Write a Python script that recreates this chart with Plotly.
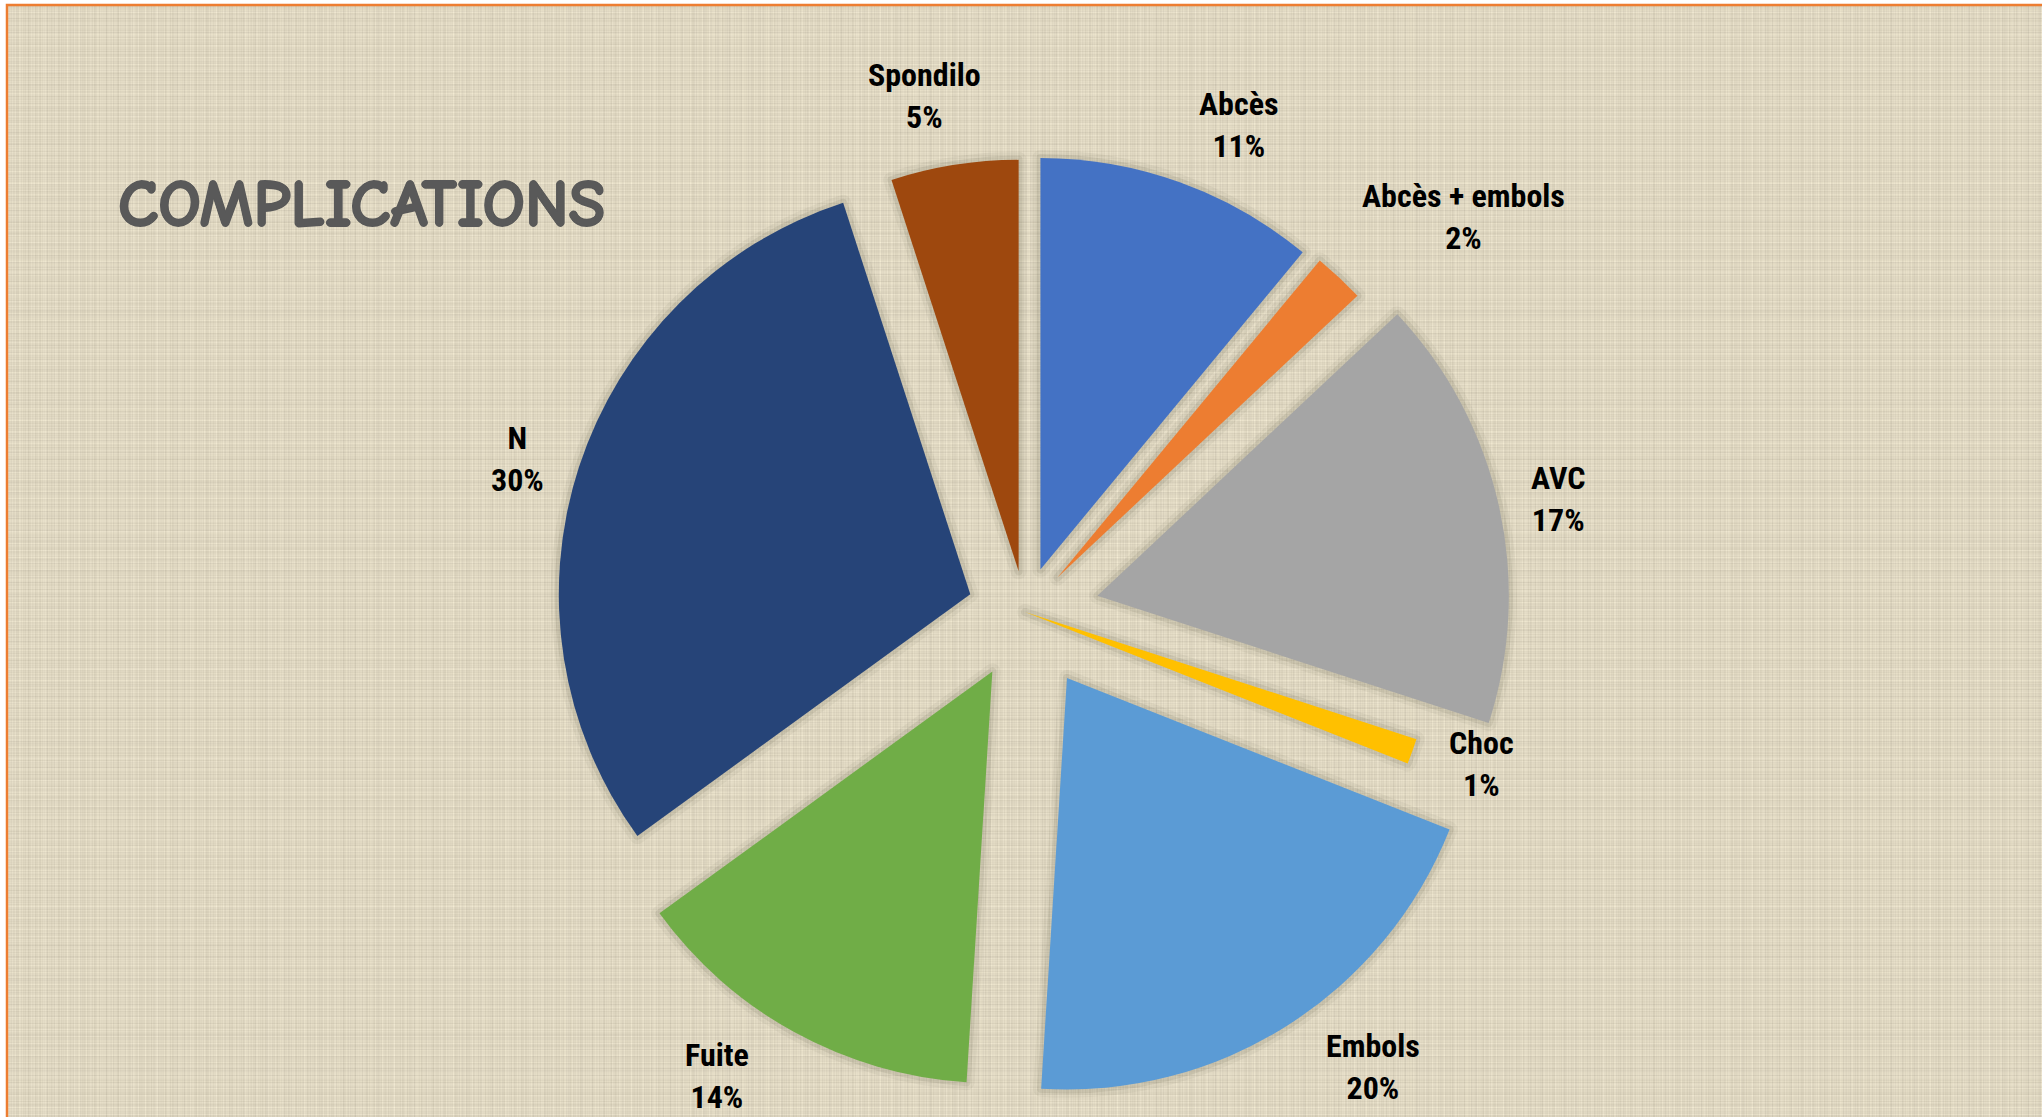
import base64
import math
import struct
import zlib

import numpy as np
import plotly.graph_objects as go

# ---- data -------------------------------------------------------------
labels = ["Abcès", "Abcès + embols", "AVC", "Choc", "Embols", "Fuite", "N", "Spondilo"]
percents = [11, 2, 17, 1, 20, 14, 30, 5]
pulls = [0.11, 0.115, 0.18, 0.0, 0.19, 0.165, 0.14, 0.10]
colors = ["#4472C4", "#ED7D31", "#A5A5A5", "#FFC000", "#5B9BD5", "#70AD47", "#264478", "#9E480E"]
title_text = "COMPLICATIONS"

# ---- canvas -----------------------------------------------------------
W, H = 2042, 1117
FRAME_X, FRAME_Y = 7, 5          # orange frame offset from the page edge
DOM_X = [0.2622, 0.7418]
DOM_Y = [0.0137, 0.8905]
LABEL_FONT = "Liberation Sans Narrow, Roboto Condensed, Arial Narrow, Open Sans, sans-serif"
LABEL_SIZE = 32
TITLE_COLOR = "#595959"


def linen_png(w, h):
    """Separable woven-linen texture encoded as PNG (Up filter keeps it tiny)."""
    x = np.arange(w)
    y = np.arange(h)

    def threads(t, phase):
        return (0.50 * np.sin(2 * np.pi * t / 2.37 + phase)
                + 0.45 * np.sin(2 * np.pi * t / 3.71 + 1.3 * phase)
                + 0.35 * np.sin(2 * np.pi * t / 5.93 + 0.4 + phase)
                + 0.25 * np.sin(2 * np.pi * t / 11.3 + 2.1 * phase)
                + 0.10 * np.sin(2 * np.pi * t / 29.0 + 0.7 * phase))

    cx = threads(x, 0.0)
    ry = threads(y, 1.7)
    base = np.array([222, 214, 192])
    amp = np.array([8.0, 8.0, 7.5])
    img = np.zeros((h, w, 3), dtype=np.int16)
    for ch in range(3):
        ci = np.round(cx * amp[ch]).astype(np.int16)
        ri = np.round(ry * amp[ch]).astype(np.int16)
        img[:, :, ch] = base[ch] + ci[None, :] + ri[:, None]
    img = np.clip(img, 0, 255).astype(np.uint8)

    prev = np.zeros((w * 3,), dtype=np.uint8)
    rows = []
    for row in img.reshape(h, w * 3):
        rows.append(b"\x02" + (row - prev).astype(np.uint8).tobytes())
        prev = row
    raw = b"".join(rows)

    def chunk(tag, data):
        return (struct.pack(">I", len(data)) + tag + data
                + struct.pack(">I", zlib.crc32(tag + data) & 0xFFFFFFFF))

    png = (b"\x89PNG\r\n\x1a\n"
           + chunk(b"IHDR", struct.pack(">IIBBBBB", w, h, 8, 2, 0, 0, 0))
           + chunk(b"IDAT", zlib.compress(raw, 9))
           + chunk(b"IEND", b""))
    return "data:image/png;base64," + base64.b64encode(png).decode()


fig = go.Figure()

# soft shadow halo drawn under the slices
for width, alpha in [(16, 0.05), (8, 0.09)]:
    fig.add_trace(go.Pie(
        labels=labels, values=percents, pull=pulls, sort=False,
        direction="clockwise", rotation=0,
        marker=dict(colors=["rgba(0,0,0,0)"] * len(labels),
                    line=dict(color=f"rgba(60,50,30,{alpha})", width=width)),
        textinfo="none", hoverinfo="skip", showlegend=False,
        domain=dict(x=DOM_X, y=DOM_Y),
    ))

fig.add_trace(go.Pie(
    labels=labels, values=percents, pull=pulls, sort=False,
    direction="clockwise", rotation=0,
    marker=dict(colors=colors, line=dict(width=0)),
    textinfo="none", hoverinfo="label+percent", showlegend=False,
    domain=dict(x=DOM_X, y=DOM_Y),
))

# pie geometry in pixels, following plotly's own sizing rule
box_w = W * (DOM_X[1] - DOM_X[0])
box_h = H * (DOM_Y[1] - DOM_Y[0])
radius = min(box_w, box_h) / 2 / (1 + max(pulls))
cx = W * (DOM_X[0] + DOM_X[1]) / 2
cy = H * (1 - (DOM_Y[0] + DOM_Y[1]) / 2)

# category labels placed outside each slice, top/bottom ones spread sideways
total = sum(percents)
cum = 0
annotations = []
for lab, val, pull in zip(labels, percents, pulls):
    mid = 2 * math.pi * (cum + val / 2) / total
    cum += val
    ang = mid + math.radians(6.5) * math.sin(2 * mid) * abs(math.cos(mid))
    lines = [lab, f"{val}%"]
    half_w = 0.24 * LABEL_SIZE * max(len(s) for s in lines)
    half_h = 1.0 * LABEL_SIZE
    dist = (radius * (1 + pull) + 30
            + half_w * abs(math.sin(ang)) + half_h * abs(math.cos(ang)))
    px = cx + dist * math.sin(ang)
    py = min(cy - dist * math.cos(ang), H - half_h - 8)
    annotations.append(dict(
        x=px / W, y=1 - py / H, xref="paper", yref="paper",
        text=f"<b>{lines[0]}</b><br><b>{lines[1]}</b>",
        showarrow=False, xanchor="center", yanchor="middle", align="center",
        font=dict(family=LABEL_FONT, size=LABEL_SIZE, color="#000000", weight="bold"),
    ))

# heavy title: thicken the strokes with a thin outline of the same colour
s = 0.9
title_outline = ", ".join(f"{dx}px {dy}px 0 {TITLE_COLOR}"
                          for dx, dy in [(s, 0), (-s, 0), (0, s), (0, -s)])
annotations.append(dict(
    x=116 / W, y=1 - 205 / H, xref="paper", yref="paper",
    text=f"<b>{title_text}</b>", showarrow=False,
    xanchor="left", yanchor="middle",
    font=dict(family="Comic Sans MS, Comic Neue, Lato, sans-serif", size=67,
              color=TITLE_COLOR, weight="bold", shadow=title_outline),
))

fig.update_layout(
    width=W, height=H,
    margin=dict(l=0, r=0, t=0, b=0),
    paper_bgcolor="#FFFFFF",
    plot_bgcolor="rgba(0,0,0,0)",
    annotations=annotations,
    images=[dict(
        source=linen_png(W - FRAME_X, H - FRAME_Y),
        xref="paper", yref="paper",
        x=FRAME_X / W, y=1 - FRAME_Y / H,
        sizex=(W - FRAME_X) / W, sizey=(H - FRAME_Y) / H,
        xanchor="left", yanchor="top", sizing="stretch", layer="below",
    )],
    shapes=[dict(
        type="rect", xref="paper", yref="paper",
        x0=FRAME_X / W, y0=-0.05, x1=1.05, y1=1 - FRAME_Y / H,
        line=dict(color="#ED7D31", width=2.5), fillcolor="rgba(0,0,0,0)",
    )],
)

fig.write_html("out.html")
